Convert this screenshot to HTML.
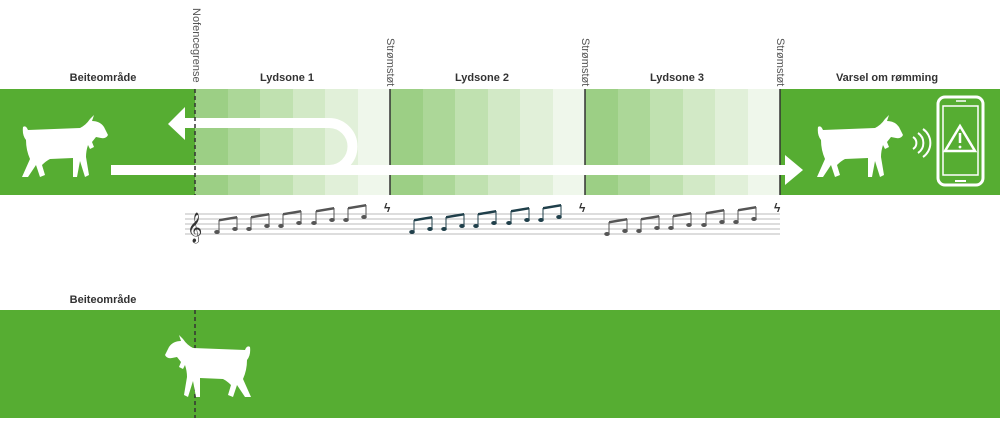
<!DOCTYPE html>
<html><head><meta charset="utf-8"><style>
html,body{margin:0;padding:0;background:#fff;}
svg{display:block;font-family:"Liberation Sans",sans-serif;}
</style></head><body>
<svg width="1000" height="428" viewBox="0 0 1000 428" xmlns="http://www.w3.org/2000/svg">
<defs>
<path id="goat" d="M5,12 Q8,10 10,15 L62,13 Q68,10 72,4 L76,0 L74,6 Q82,6 86,12 L90,20 Q88,24 83,23 L78,22 L74,27 L76,32 L72,34 L70,30 Q68,36 68,42 L71,60 L67,62 L62,46 L59,62 L55,62 L55,43 L32,44 Q28,46 24,50 L27,60 L22,62 L18,50 L10,62 L4,62 L12,44 Q8,35 8,25 Q4,20 5,12 Z" fill="#fff"/>
</defs>
<rect x="0" y="89" width="195" height="106" fill="#56ad32"/>
<rect x="780" y="89" width="220" height="106" fill="#56ad32"/>
<g>
<rect x="195" y="89" width="33" height="106" fill="#9ccf85"/>
<rect x="228" y="89" width="32" height="106" fill="#acd798"/>
<rect x="260" y="89" width="33" height="106" fill="#c0e1b0"/>
<rect x="293" y="89" width="32" height="106" fill="#d2e9c6"/>
<rect x="325" y="89" width="33" height="106" fill="#e1f0d9"/>
<rect x="358" y="89" width="32" height="106" fill="#eff7eb"/>
<rect x="390" y="89" width="33" height="106" fill="#9ccf85"/>
<rect x="423" y="89" width="32" height="106" fill="#acd798"/>
<rect x="455" y="89" width="33" height="106" fill="#c0e1b0"/>
<rect x="488" y="89" width="32" height="106" fill="#d2e9c6"/>
<rect x="520" y="89" width="33" height="106" fill="#e1f0d9"/>
<rect x="553" y="89" width="32" height="106" fill="#eff7eb"/>
<rect x="585" y="89" width="33" height="106" fill="#9ccf85"/>
<rect x="618" y="89" width="32" height="106" fill="#acd798"/>
<rect x="650" y="89" width="33" height="106" fill="#c0e1b0"/>
<rect x="683" y="89" width="32" height="106" fill="#d2e9c6"/>
<rect x="715" y="89" width="33" height="106" fill="#e1f0d9"/>
<rect x="748" y="89" width="32" height="106" fill="#eff7eb"/>
</g>
<line x1="390" y1="89" x2="390" y2="195" stroke="#333" stroke-width="1.5"/>
<line x1="585" y1="89" x2="585" y2="195" stroke="#333" stroke-width="1.5"/>
<line x1="780" y1="89" x2="780" y2="195" stroke="#333" stroke-width="1.5"/>
<path d="M185,123 L329,123 A23.5,23.5 0 0 1 329,170" fill="none" stroke="#fff" stroke-width="10"/>
<path d="M185,107 L168,124 L185,140 Z" fill="#fff"/>
<rect x="111" y="165" width="675" height="10" fill="#fff"/>
<path d="M785,155 L803,170 L785,185 Z" fill="#fff"/>
<line x1="195" y1="89" x2="195" y2="195" stroke="#333" stroke-width="1.5" stroke-dasharray="4,3"/>
<use href="#goat" transform="translate(18,115)"/>
<use href="#goat" transform="translate(813,115)"/>
<g fill="none" stroke="#fff" stroke-width="2">
<path d="M913,137 A7,7 0 0 1 913,149"/>
<path d="M918,133 A12,12 0 0 1 918,153"/>
<path d="M923,129 A17,17 0 0 1 923,157"/>
</g>
<rect x="938" y="97" width="45" height="88" rx="7" fill="none" stroke="#fff" stroke-width="3"/>
<rect x="943" y="106" width="35" height="69" fill="none" stroke="#fff" stroke-width="1.5"/>
<line x1="956" y1="101" x2="966" y2="101" stroke="#fff" stroke-width="1.5"/>
<line x1="955" y1="181" x2="966" y2="181" stroke="#fff" stroke-width="2"/>
<path d="M960,126 L975,151 L945,151 Z" fill="none" stroke="#fff" stroke-width="2.5"/>
<line x1="960" y1="133" x2="960" y2="143" stroke="#fff" stroke-width="2.5"/>
<circle cx="960" cy="147" r="1.4" fill="#fff"/>
<g font-size="11" font-weight="bold" fill="#333" text-anchor="middle">
<text x="103" y="81">Beiteområde</text>
<text x="287" y="81">Lydsone 1</text>
<text x="482" y="81">Lydsone 2</text>
<text x="677" y="81">Lydsone 3</text>
<text x="887" y="81">Varsel om rømming</text>
<text x="103" y="303">Beiteområde</text>
</g>
<g font-size="11" fill="#555">
<text transform="translate(193,8) rotate(90)">Nofencegrense</text>
<text transform="translate(387,38) rotate(90)">Strømstøt</text>
<text transform="translate(582,38) rotate(90)">Strømstøt</text>
<text transform="translate(777,38) rotate(90)">Strømstøt</text>
</g>
<g stroke="#bbb" stroke-width="1">
<line x1="185" y1="214" x2="780" y2="214"/>
<line x1="185" y1="219" x2="780" y2="219"/>
<line x1="185" y1="224" x2="780" y2="224"/>
<line x1="185" y1="229" x2="780" y2="229"/>
<line x1="185" y1="234" x2="780" y2="234"/>
</g>
<text x="187" y="236" font-size="26" fill="#333" font-family="DejaVu Sans,sans-serif">𝄞</text>
<g fill="#333">
<text x="384" y="212" font-size="12" font-weight="bold">ϟ</text>
<text x="579" y="212" font-size="12" font-weight="bold">ϟ</text>
<text x="774" y="212" font-size="12" font-weight="bold">ϟ</text>
</g>
<g id="n1" fill="#555" stroke="#555">
<g stroke-width="1"><line x1="219" y1="232" x2="219" y2="220"/><line x1="237" y1="229" x2="237" y2="217"/></g>
<path d="M219,219 L237,216 L237,218.5 L219,221.5Z" stroke="none"/>
<ellipse cx="217" cy="232" rx="2.8" ry="2" stroke="none"/><ellipse cx="235" cy="229" rx="2.8" ry="2" stroke="none"/>
</g>
<use href="#n1" transform="translate(32,-3)"/>
<use href="#n1" transform="translate(64,-6)"/>
<use href="#n1" transform="translate(97,-9)"/>
<use href="#n1" transform="translate(129,-12)"/>
<g id="n2" fill="#1f3f4a" stroke="#1f3f4a">
<g stroke-width="1"><line x1="414" y1="232" x2="414" y2="220"/><line x1="432" y1="229" x2="432" y2="217"/></g>
<path d="M414,219 L432,216 L432,218.5 L414,221.5Z" stroke="none"/>
<ellipse cx="412" cy="232" rx="2.8" ry="2" stroke="none"/><ellipse cx="430" cy="229" rx="2.8" ry="2" stroke="none"/>
</g>
<use href="#n2" transform="translate(32,-3)"/>
<use href="#n2" transform="translate(64,-6)"/>
<use href="#n2" transform="translate(97,-9)"/>
<use href="#n2" transform="translate(129,-12)"/>
<use href="#n1" transform="translate(390,2)"/>
<use href="#n1" transform="translate(422,-1)"/>
<use href="#n1" transform="translate(454,-4)"/>
<use href="#n1" transform="translate(487,-7)"/>
<use href="#n1" transform="translate(519,-10)"/>
<rect x="0" y="310" width="1000" height="108" fill="#56ad32"/>
<line x1="195" y1="310" x2="195" y2="418" stroke="#333" stroke-width="1.5" stroke-dasharray="4,3"/>
<use href="#goat" transform="translate(255,335) scale(-1,1)"/>
</svg>
</body></html>
